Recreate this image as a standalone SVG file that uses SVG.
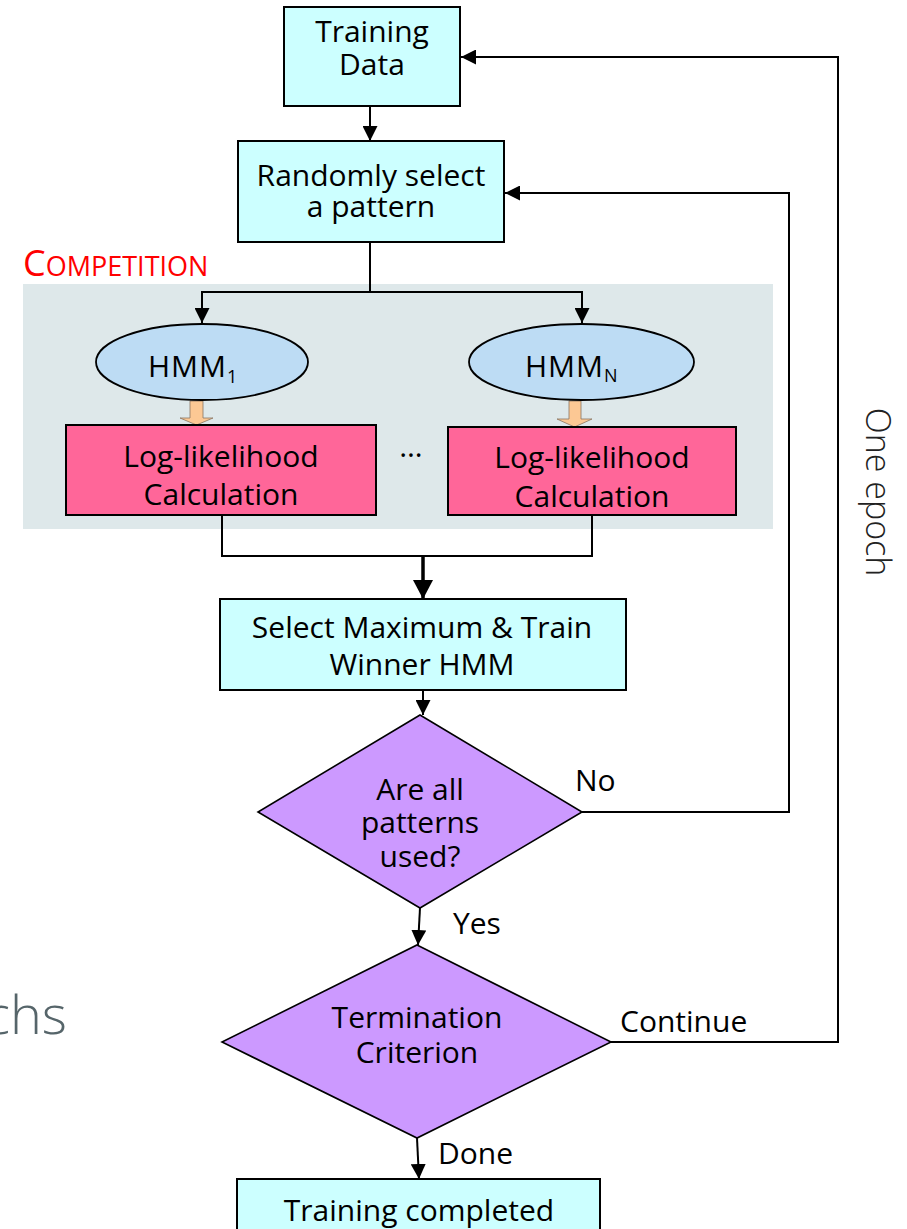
<svg xmlns="http://www.w3.org/2000/svg" width="907" height="1229" viewBox="0 0 907 1229">
  <defs>
    <marker id="arrow" markerUnits="userSpaceOnUse" markerWidth="15" markerHeight="15" refX="15" refY="7.5" orient="auto">
      <path d="M0,0 L15,7.5 L0,15 z" fill="#000"/>
    </marker>
    <marker id="arrowBig" markerUnits="userSpaceOnUse" markerWidth="19" markerHeight="20" refX="19" refY="10" orient="auto">
      <path d="M0,0 L19,10 L0,20 z" fill="#000"/>
    </marker>
    <style>
      .lbl { font-family: "Open Sans", "Noto Sans", "Liberation Sans", sans-serif; font-size: 30px; fill: #000; }
      .mid { text-anchor: middle; }
      .box { fill: #ccffff; stroke: #000; stroke-width: 2; }
      .calc { fill: #ff6699; stroke: #000; stroke-width: 2; }
      .hmm { fill: #bddcf4; stroke: #000; stroke-width: 1.8; }
      .dec { fill: #cc99ff; stroke: #000; stroke-width: 1.6; }
      .wire { fill: none; stroke: #000; stroke-width: 2; }
      .feed { fill: #fcc894; stroke: #8a7560; stroke-width: 0.8; }
    </style>
  </defs>

  <!-- competition panel background -->
  <rect id="competition-panel" x="23" y="284" width="750" height="245" fill="#dee8ea"/>
  <text id="competition-title" x="23" y="276" font-family="Open Sans, Noto Sans, Liberation Sans, sans-serif" fill="#ff0000"><tspan font-size="36">C</tspan><tspan font-size="27">OMPETITION</tspan></text>

  <!-- partial slide title text at the left edge -->
  <text id="side-text" x="67" y="1034" text-anchor="end" font-family="Open Sans, Noto Sans, Liberation Sans, sans-serif" font-weight="300" font-size="54" fill="#56656a">chs</text>

  <!-- connectors -->
  <g id="connectors">
    <path class="wire" d="M370,107 V141" marker-end="url(#arrow)"/>
    <path class="wire" d="M370,242 V292 H202 V323" marker-end="url(#arrow)"/>
    <path class="wire" d="M370,292 H582 V323" marker-end="url(#arrow)"/>
    <path class="wire" d="M222,515 V556 H592 V515"/>
    <path fill="none" stroke="#000" stroke-width="3.5" d="M423,556 V599" marker-end="url(#arrowBig)"/>
    <path class="wire" d="M423,691 V715" marker-end="url(#arrow)"/>
    <path class="wire" d="M582,812 H789 V193 H505" marker-end="url(#arrow)"/>
    <path class="wire" d="M420,908 L418,945" marker-end="url(#arrow)"/>
    <path class="wire" d="M611,1042 H838 V57 H461" marker-end="url(#arrow)"/>
    <path class="wire" d="M417,1138 L419,1179" marker-end="url(#arrow)"/>
    <polygon class="feed" points="190,401 203,401 203,418 213,418 196.5,425 180,418 190,418"/>
    <polygon class="feed" points="569,401 581,401 581,419 592,419 574.5,427 557,419 569,419"/>
  </g>

  <g id="training-data">
    <rect class="box" x="284" y="7" width="176" height="99"/>
    <text class="lbl mid" x="372" y="42" font-size="29">Training</text>
    <text class="lbl mid" x="372" y="75" font-size="29">Data</text>
  </g>

  <g id="random-select">
    <rect class="box" x="238" y="141" width="266" height="101"/>
    <text class="lbl mid" x="371" y="186">Randomly select</text>
    <text class="lbl mid" x="371" y="217">a pattern</text>
  </g>

  <g id="hmm-1">
    <ellipse class="hmm" cx="202" cy="362" rx="106" ry="38"/>
    <text class="lbl" x="148" y="377" font-size="31" letter-spacing="1">HMM<tspan font-size="18" dy="6" letter-spacing="0">1</tspan></text>
  </g>

  <g id="hmm-n">
    <ellipse class="hmm" cx="581.5" cy="362" rx="112.5" ry="38"/>
    <text class="lbl" x="525" y="377" font-size="31" letter-spacing="1">HMM<tspan font-size="18" dy="5" letter-spacing="0">N</tspan></text>
  </g>

  <g id="loglik-1">
    <rect class="calc" x="66" y="425" width="310" height="90"/>
    <text class="lbl mid" x="221" y="467" font-size="31">Log-likelihood</text>
    <text class="lbl mid" x="221" y="505" font-size="31">Calculation</text>
  </g>

  <text id="ellipsis" class="lbl mid" x="411" y="457" font-size="24">…</text>

  <g id="loglik-n">
    <rect class="calc" x="448" y="427" width="288" height="88"/>
    <text class="lbl mid" x="592" y="468" font-size="31">Log-likelihood</text>
    <text class="lbl mid" x="592" y="507" font-size="31">Calculation</text>
  </g>

  <g id="select-train">
    <rect class="box" x="220" y="599" width="406" height="91"/>
    <text class="lbl mid" x="422" y="638">Select Maximum &amp; Train</text>
    <text class="lbl mid" x="422" y="675">Winner HMM</text>
  </g>

  <g id="all-used">
    <polygon class="dec" points="420,715 582,812 420,908 258,812"/>
    <text class="lbl mid" x="420" y="800" font-size="29">Are all</text>
    <text class="lbl mid" x="420" y="833" font-size="29">patterns</text>
    <text class="lbl mid" x="420" y="867" font-size="29">used?</text>
    <text class="lbl" x="575" y="791">No</text>
    <text class="lbl" x="453" y="934">Yes</text>
  </g>

  <g id="termination">
    <polygon class="dec" points="417,945 611,1042 417,1138 222,1042"/>
    <text class="lbl mid" x="417" y="1028" font-size="29">Termination</text>
    <text class="lbl mid" x="417" y="1063" font-size="29">Criterion</text>
    <text class="lbl" x="620" y="1032">Continue</text>
    <text class="lbl" x="438" y="1164">Done</text>
  </g>

  <g id="training-completed">
    <rect class="box" x="237" y="1179" width="363" height="60"/>
    <text class="lbl mid" x="419" y="1221">Training completed</text>
  </g>

  <text id="epoch-label" transform="translate(866,492) rotate(90)" text-anchor="middle" font-family="Open Sans, Noto Sans, Liberation Sans, sans-serif" font-weight="300" font-size="34" fill="#222">One epoch</text>
</svg>
